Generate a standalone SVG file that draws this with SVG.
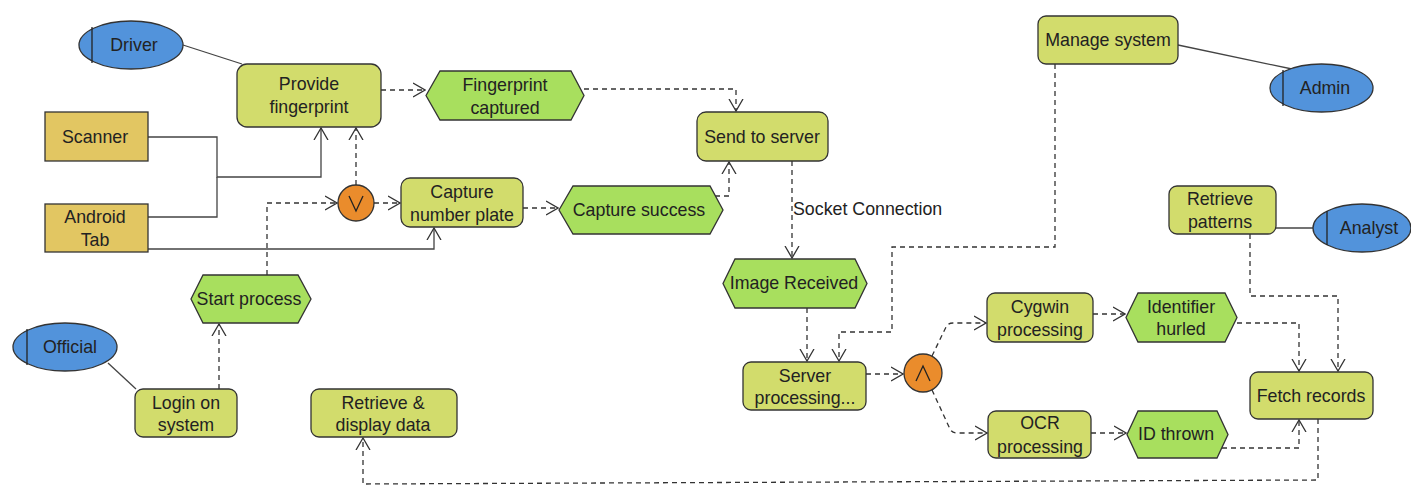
<svg xmlns="http://www.w3.org/2000/svg" width="1411" height="486" viewBox="0 0 1411 486">
<defs>
<marker id="arr" viewBox="0 0 13 16" refX="12" refY="8" markerWidth="13" markerHeight="16" markerUnits="userSpaceOnUse" orient="auto">
<path d="M0,1 L12,8 L0,15" fill="none" stroke="#333" stroke-width="1.3"/>
</marker>
<style>
text{font-family:"Liberation Sans",Arial,sans-serif;font-size:17.8px;fill:#222;text-anchor:middle;dominant-baseline:central}
.proc{fill:#D2DC6C;stroke:#333;stroke-width:1.3}
.evt{fill:#A8DF5E;stroke:#333;stroke-width:1.3}
.act{fill:#5293DB;stroke:#333;stroke-width:1.3}
.res{fill:#E2C662;stroke:#333;stroke-width:1.3}
.op{fill:#EA8C2C;stroke:#333;stroke-width:1.3}
.sym{fill:none;stroke:#222;stroke-width:1.3}
.solid{fill:none;stroke:#444;stroke-width:1.3}
.dash{fill:none;stroke:#333;stroke-width:1.3;stroke-dasharray:5,4}
.arrow{marker-end:url(#arr)}
</style>
</defs>
<rect width="1411" height="486" fill="#fff"/>

<g id="connectors">
<line class="solid" x1="183" y1="45" x2="242" y2="64"/>
<polyline class="solid arrow" points="148,137 217,137 217,177 321,177 321,128"/>
<polyline class="solid" points="148,217 217,217 217,177"/>
<polyline class="solid arrow" points="148,249 434,249 434,228"/>
<line class="dash arrow" x1="381" y1="90" x2="425" y2="90"/>
<line class="dash arrow" x1="356" y1="185" x2="356" y2="128"/>
<polyline class="dash arrow" points="267,275 267,203 337,203"/>
<line class="dash arrow" x1="374" y1="203" x2="400" y2="203"/>
<line class="dash arrow" x1="523" y1="208" x2="558" y2="208"/>
<polyline class="dash arrow" points="584,89 736,89 736,111"/>
<polyline class="dash arrow" points="715,196 729,196 729,162"/>
<line class="dash arrow" x1="792" y1="161" x2="792" y2="258"/>
<text x="793" y="209" style="text-anchor:start">Socket Connection</text>
<line class="dash arrow" x1="807" y1="308" x2="807" y2="361"/>
<polyline class="dash arrow" points="1055,64 1055,247 892,247 892,332 839,332 839,361"/>
<line class="dash arrow" x1="866" y1="374" x2="903" y2="374"/>
<path class="dash arrow" d="M932,356 L946,327 Q948,323 953,323 L986,323"/>
<path class="dash arrow" d="M932,390 L950,429 Q952,433 957,433 L987,433"/>
<line class="dash arrow" x1="1093" y1="314" x2="1125" y2="314"/>
<line class="dash arrow" x1="1091" y1="433" x2="1126" y2="433"/>
<polyline class="dash arrow" points="1237,323 1299,323 1299,371"/>
<polyline class="dash arrow" points="1222,448 1299,448 1299,420"/>
<polyline class="dash arrow" points="1250,234 1250,296 1338,296 1338,371"/>
<polyline class="dash arrow" points="1318,419 1318,480 363,484 363,438"/>
<line class="dash arrow" x1="219" y1="389" x2="219" y2="324"/>
<line class="solid" x1="108" y1="363" x2="136" y2="389"/>
<line class="solid" x1="1178" y1="45" x2="1292" y2="69"/>
<line class="solid" x1="1276" y1="228" x2="1314" y2="228"/>
</g>

<g id="driver"><ellipse class="act" cx="131" cy="45" rx="52" ry="24"/><line class="sym" x1="92" y1="27" x2="92" y2="63"/><text x="134" y="45">Driver</text></g>
<g id="provide-fingerprint"><rect class="proc" x="237" y="64" width="144" height="63" rx="10"/><text x="309" y="84">Provide</text><text x="309" y="107">fingerprint</text></g>
<g id="scanner"><rect class="res" x="45" y="112" width="103" height="49"/><text x="95" y="137">Scanner</text></g>
<g id="android-tab"><rect class="res" x="45" y="204" width="103" height="48"/><text x="95" y="217">Android</text><text x="95" y="240">Tab</text></g>
<g id="fingerprint-captured"><polygon class="evt" points="426,95.5 440,71 571,71 584,95.5 571,120 440,120"/><text x="505" y="85">Fingerprint</text><text x="505" y="108">captured</text></g>
<g id="send-to-server"><rect class="proc" x="697" y="112" width="131" height="49" rx="9"/><text x="762" y="137">Send to server</text></g>
<g id="or-op"><circle class="op" cx="356" cy="203" r="18"/><polyline class="sym" points="349,196 356,211 363,196"/></g>
<g id="capture-number-plate"><rect class="proc" x="401" y="178" width="122" height="49" rx="9"/><text x="462" y="192">Capture</text><text x="462" y="215">number plate</text></g>
<g id="capture-success"><polygon class="evt" points="559,210 573,186 710,186 723,210 710,234 573,234"/><text x="639" y="210">Capture success</text></g>
<g id="image-received"><polygon class="evt" points="723,283.5 735,259 855,259 867,283.5 855,308 735,308"/><text x="794" y="283">Image Received</text></g>
<g id="start-process"><polygon class="evt" points="191,299 203,275 298,275 311,299 298,323 203,323"/><text x="249" y="299">Start process</text></g>
<g id="official"><ellipse class="act" cx="65" cy="347" rx="52" ry="24"/><line class="sym" x1="27" y1="329" x2="27" y2="365"/><text x="70" y="347">Official</text></g>
<g id="login-on-system"><rect class="proc" x="135" y="389" width="102" height="48" rx="8"/><text x="186" y="403">Login on</text><text x="186" y="425">system</text></g>
<g id="retrieve-display-data"><rect class="proc" x="311" y="389" width="146" height="48" rx="8"/><text x="383" y="403">Retrieve &amp;</text><text x="383" y="425">display data</text></g>
<g id="server-processing"><rect class="proc" x="743" y="362" width="123" height="48" rx="8"/><text x="805" y="376">Server</text><text x="805" y="398">processing...</text></g>
<g id="and-op"><circle class="op" cx="923" cy="373" r="19"/><polyline class="sym" points="916,381 923,366 930,381"/></g>
<g id="cygwin-processing"><rect class="proc" x="987" y="293" width="106" height="49" rx="8"/><text x="1040" y="307">Cygwin</text><text x="1040" y="330">processing</text></g>
<g id="ocr-processing"><rect class="proc" x="988" y="411" width="103" height="47" rx="8"/><text x="1040" y="423">OCR</text><text x="1040" y="447">processing</text></g>
<g id="identifier-hurled"><polygon class="evt" points="1126,317.5 1138,293 1225,293 1237,317.5 1225,342 1138,342"/><text x="1181" y="307">Identifier</text><text x="1181" y="329">hurled</text></g>
<g id="id-thrown"><polygon class="evt" points="1127,434.5 1138,411 1217,411 1228,434.5 1217,458 1138,458"/><text x="1176" y="434">ID thrown</text></g>
<g id="manage-system"><rect class="proc" x="1038" y="16" width="140" height="48" rx="8"/><text x="1108" y="40">Manage system</text></g>
<g id="admin"><ellipse class="act" cx="1321.5" cy="88" rx="51.5" ry="24"/><line class="sym" x1="1283" y1="70" x2="1283" y2="106"/><text x="1325" y="88">Admin</text></g>
<g id="retrieve-patterns"><rect class="proc" x="1169" y="186" width="107" height="48" rx="8"/><text x="1220" y="199">Retrieve</text><text x="1220" y="222">patterns</text></g>
<g id="analyst"><ellipse class="act" cx="1362" cy="228" rx="49" ry="24"/><line class="sym" x1="1327" y1="211" x2="1327" y2="245"/><text x="1369" y="228">Analyst</text></g>
<g id="fetch-records"><rect class="proc" x="1250" y="372" width="123" height="47" rx="8"/><text x="1311" y="396">Fetch records</text></g>
</svg>
